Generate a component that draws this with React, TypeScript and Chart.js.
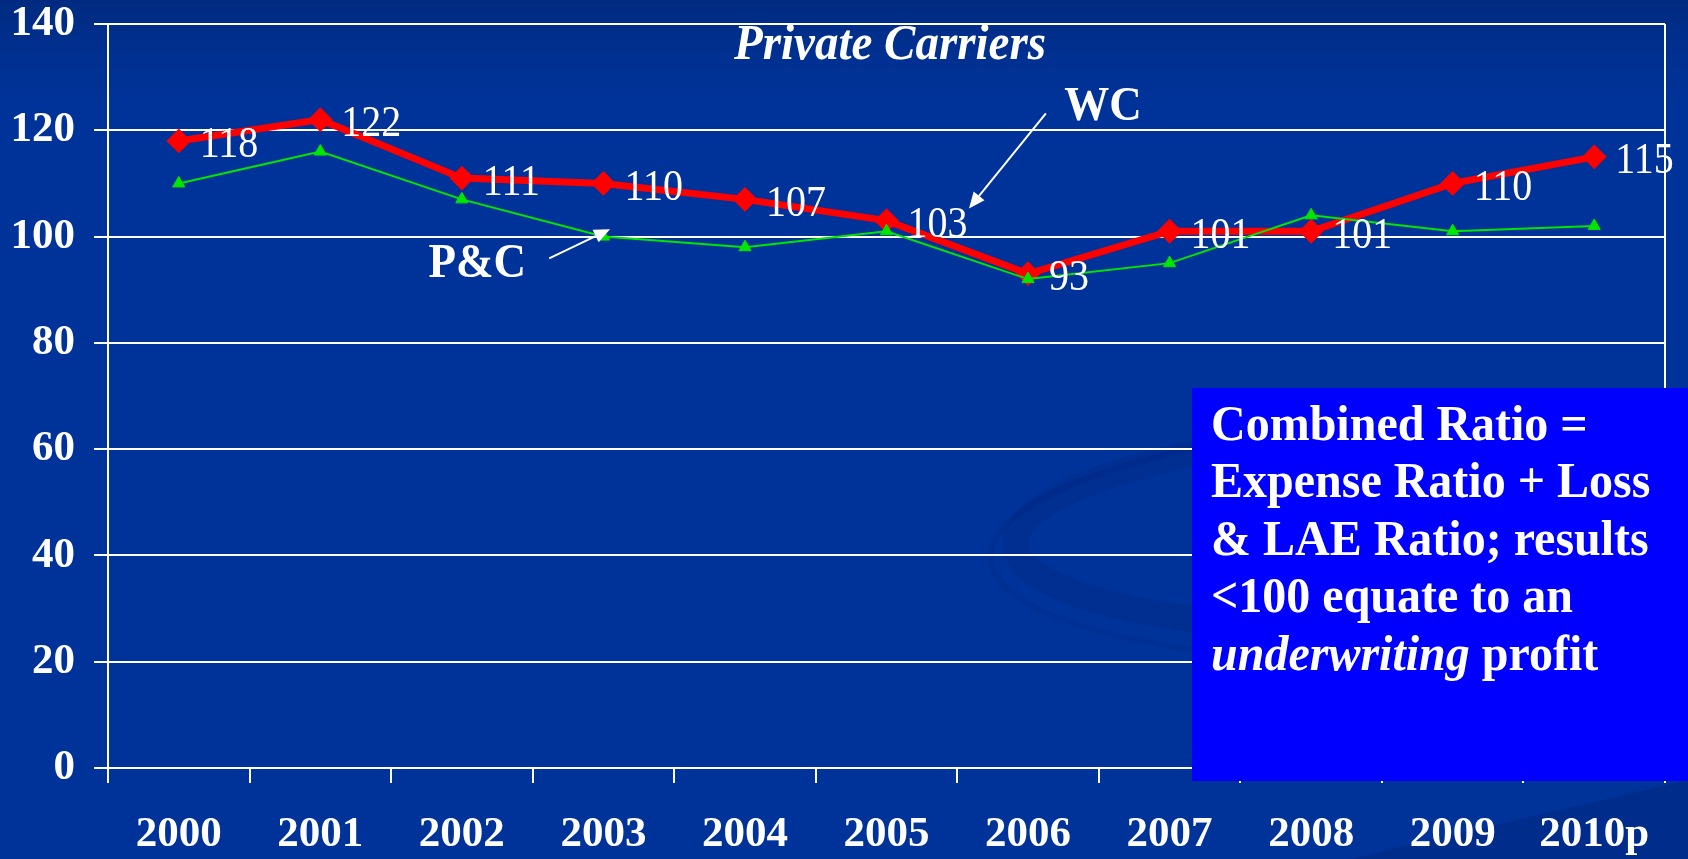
import React, { useEffect, useRef } from "react";
import { Chart, registerables } from "chart.js";

Chart.register(...registerables);

// ---- data ----
const years = ["2000", "2001", "2002", "2003", "2004", "2005", "2006", "2007", "2008", "2009", "2010p"];
const wcValues = [118, 122, 111, 110, 107, 103, 93, 101, 101, 110, 115];
const pcValues = [110, 116, 107, 100, 98, 101, 92, 95, 104, 101, 102];
const yMin = 0;
const yMax = 140;
const yStep = 20;
const chartTitle = "Private Carriers";
const wcName = "WC";
const pcName = "P&C";
const noteLines = [
  "Combined Ratio =",
  "Expense Ratio + Loss",
  "& LAE Ratio; results",
  "<100 equate to an",
];
const noteLastItalic = "underwriting";
const noteLastRest = " profit";

// annotation anchors in data space: [categoryIndex, value]
const titleAnchor = [5.025, 135.9];
const wcTextAnchor = [6.53, 124.4];
const wcArrowFrom = [6.126, 123.2];
const wcArrowTo = [5.583, 105.3];
const pcTextAnchor = [2.108, 94.8];
const pcArrowFrom = [2.617, 95.9];
const pcArrowTo = [3.047, 101.4];

const FONT = "'Liberation Serif', 'Times New Roman', serif";
const W = 1688;
const H = 859;

function drawArrow(ctx: CanvasRenderingContext2D, x1: number, y1: number, x2: number, y2: number) {
  const ang = Math.atan2(y2 - y1, x2 - x1);
  const head = 16;
  const hw = 7;
  ctx.save();
  ctx.strokeStyle = "#ffffff";
  ctx.fillStyle = "#ffffff";
  ctx.lineWidth = 2;
  ctx.beginPath();
  ctx.moveTo(x1, y1);
  ctx.lineTo(x2 - Math.cos(ang) * head, y2 - Math.sin(ang) * head);
  ctx.stroke();
  ctx.beginPath();
  ctx.moveTo(x2, y2);
  const bx = x2 - Math.cos(ang) * head;
  const by = y2 - Math.sin(ang) * head;
  ctx.lineTo(bx + Math.sin(ang) * hw, by - Math.cos(ang) * hw);
  ctx.lineTo(bx - Math.sin(ang) * hw, by + Math.cos(ang) * hw);
  ctx.closePath();
  ctx.fill();
  ctx.restore();
}

// draw text slightly stretched vertically, like the original slide rendering
function tallText(ctx: CanvasRenderingContext2D, t: string, x: number, y: number, sy = 1.1) {
  ctx.save();
  ctx.translate(x, y);
  ctx.scale(1, sy);
  ctx.fillText(t, 0, 0);
  ctx.restore();
}

const decorPlugin = {
  id: "decor",
  beforeDraw(chart: any) {
    const ctx = chart.ctx as CanvasRenderingContext2D;
    ctx.save();
    const g = ctx.createLinearGradient(0, 0, 0, H);
    g.addColorStop(0, "#002a80");
    g.addColorStop(0.05, "#002f8e");
    g.addColorStop(0.12, "#003399");
    g.addColorStop(1, "#003399");
    ctx.fillStyle = g;
    ctx.fillRect(0, 0, W, H);
    // faint swirl decoration
    ctx.strokeStyle = "rgba(0, 25, 110, 0.18)";
    ctx.lineWidth = 26;
    ctx.beginPath();
    ctx.ellipse(1420, 528, 405, 100, -0.04, 0, Math.PI * 2);
    ctx.stroke();
    ctx.strokeStyle = "rgba(0, 30, 120, 0.15)";
    ctx.lineWidth = 6;
    ctx.beginPath();
    ctx.ellipse(1440, 540, 450, 120, -0.04, 0, Math.PI * 2);
    ctx.stroke();
    // darker diagonal band bottom-right
    ctx.fillStyle = "rgba(0, 30, 110, 0.3)";
    ctx.beginPath();
    ctx.moveTo(1350, H);
    ctx.lineTo(W, 780);
    ctx.lineTo(W, H);
    ctx.closePath();
    ctx.fill();
    ctx.restore();
  },
  afterDatasetsDraw(chart: any) {
    const ctx = chart.ctx as CanvasRenderingContext2D;
    const xs = chart.scales.x;
    const ys = chart.scales.y;
    const area = chart.chartArea;
    ctx.save();
    // right border of plot
    ctx.strokeStyle = "#ffffff";
    ctx.lineWidth = 2;
    ctx.beginPath();
    ctx.moveTo(area.right, area.top);
    ctx.lineTo(area.right, area.bottom);
    ctx.stroke();

    // value labels for WC
    const meta = chart.getDatasetMeta(1);
    ctx.fillStyle = "#ffffff";
    ctx.font = `normal 40px ${FONT}`;
    ctx.textAlign = "left";
    ctx.textBaseline = "middle";
    meta.data.forEach((pt: any, i: number) => {
      tallText(ctx, String(wcValues[i]), pt.x + 21, pt.y + 5);
    });

    // title
    ctx.font = `italic bold 47px ${FONT}`;
    ctx.textAlign = "center";
    tallText(ctx, chartTitle, xs.getPixelForValue(titleAnchor[0]), ys.getPixelForValue(titleAnchor[1]));

    // series annotations
    ctx.font = `bold 45px ${FONT}`;
    tallText(ctx, wcName, xs.getPixelForValue(wcTextAnchor[0]), ys.getPixelForValue(wcTextAnchor[1]));
    tallText(ctx, pcName, xs.getPixelForValue(pcTextAnchor[0]), ys.getPixelForValue(pcTextAnchor[1]));
    drawArrow(ctx,
      xs.getPixelForValue(wcArrowFrom[0]), ys.getPixelForValue(wcArrowFrom[1]),
      xs.getPixelForValue(wcArrowTo[0]), ys.getPixelForValue(wcArrowTo[1]));
    drawArrow(ctx,
      xs.getPixelForValue(pcArrowFrom[0]), ys.getPixelForValue(pcArrowFrom[1]),
      xs.getPixelForValue(pcArrowTo[0]), ys.getPixelForValue(pcArrowTo[1]));
    ctx.restore();
  },
  afterDraw(chart: any) {
    const ctx = chart.ctx as CanvasRenderingContext2D;
    ctx.save();
    // note box
    const bx = 1192;
    const by = 388;
    ctx.fillStyle = "#0000ff";
    ctx.fillRect(bx, by, W - bx, 781 - by);
    ctx.fillStyle = "#ffffff";
    ctx.textAlign = "left";
    ctx.textBaseline = "middle";
    ctx.font = `bold 48px ${FONT}`;
    const lx = 1211;
    const ly0 = 427;
    const lh = 57.4;
    noteLines.forEach((t, i) => tallText(ctx, t, lx, ly0 + i * lh, 1.05));
    const y5 = ly0 + 4 * lh;
    ctx.font = `italic bold 48px ${FONT}`;
    tallText(ctx, noteLastItalic, lx, y5, 1.05);
    const wItal = ctx.measureText(noteLastItalic).width;
    ctx.font = `bold 48px ${FONT}`;
    tallText(ctx, noteLastRest, lx + wItal, y5, 1.05);
    ctx.restore();
  },
};

export default function App() {
  const ref = useRef<HTMLCanvasElement | null>(null);
  useEffect(() => {
    if (!ref.current) return;
    Chart.defaults.font.family = FONT;
    const chart = new Chart(ref.current, {
      type: "line",
      data: {
        labels: years,
        datasets: [
          {
            label: pcName,
            data: pcValues,
            borderColor: "#00e600",
            backgroundColor: "#00e600",
            borderWidth: 2,
            pointStyle: "triangle",
            pointRadius: 7,
            pointBorderWidth: 1,
            pointBackgroundColor: "#00e600",
            pointBorderColor: "#00e600",
            tension: 0,
            order: 0,
          },
          {
            label: wcName,
            data: wcValues,
            borderColor: "#ff0000",
            backgroundColor: "#ff0000",
            borderWidth: 7,
            pointStyle: "rectRot",
            pointRadius: 11,
            pointBorderWidth: 2,
            pointBackgroundColor: "#ff0000",
            pointBorderColor: "#ff0000",
            tension: 0,
            order: 1,
          },
        ],
      },
      options: {
        responsive: false,
        animation: false,
        devicePixelRatio: 1,
        layout: { padding: { top: 24, right: 23, left: 0, bottom: 0 } },
        plugins: {
          legend: { display: false },
          tooltip: { enabled: false },
          title: { display: false },
        },
        scales: {
          x: {
            offset: true,
            ticks: {
              color: "#ffffff",
              font: { size: 43, weight: "bold", lineHeight: 1 },
              padding: 30,
              maxRotation: 0,
              autoSkip: false,
            },
            grid: {
              offset: true,
              drawOnChartArea: false,
              drawTicks: true,
              tickLength: 15,
              color: "#ffffff",
              lineWidth: 2,
            },
            border: { display: true, color: "#ffffff", width: 2 },
            afterFit: (s: any) => {
              s.height = 91;
              s.paddingLeft = 0;
              s.paddingRight = 0;
            },
          },
          y: {
            min: yMin,
            max: yMax,
            ticks: {
              stepSize: yStep,
              color: "#ffffff",
              font: { size: 43, weight: "bold", lineHeight: 1 },
              padding: 19,
            },
            grid: { color: "#ffffff", lineWidth: 2, tickLength: 14, drawTicks: true },
            border: { display: true, color: "#ffffff", width: 2 },
            afterFit: (s: any) => {
              s.width = 108;
              s.paddingTop = 0;
              s.paddingBottom = 0;
            },
          },
        },
      },
      plugins: [decorPlugin],
    } as any);
    return () => chart.destroy();
  }, []);
  return (
    <div style={{ position: "fixed", left: 0, top: 0, width: W, height: H, overflow: "hidden" }}>
      <canvas ref={ref} width={W} height={H} style={{ display: "block", width: W, height: H }} />
    </div>
  );
}
